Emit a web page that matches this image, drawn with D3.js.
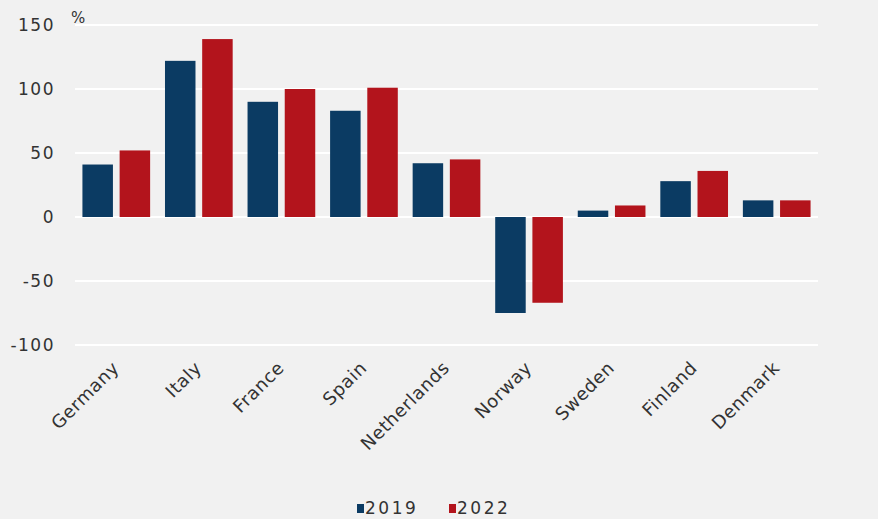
<!DOCTYPE html>
<html>
<head>
<meta charset="utf-8">
<script src="https://cdn.jsdelivr.net/npm/d3@7"></script>
<style>
  body { margin: 0; background: #f1f1f1; }
  text { font-family: "DejaVu Sans", sans-serif; fill: #333; }
</style>
</head>
<body>
<div id="wrapper"></div>
<script>
// data
const countries = ["Germany", "Italy", "France", "Spain", "Netherlands", "Norway", "Sweden", "Finland", "Denmark"]
const years = ["2019", "2022"]
const values2019 = [41, 122, 90, 83, 42, -75, 5, 28, 13]
const values2022 = [52, 139, 100, 101, 45, -67, 9, 36, 13]
const yTicks = [-100, -50, 0, 50, 100, 150]
const colors = ["#0b3b63", "#b3141c"]

function drawChart() {
  const data = countries.map((c, i) => ({country: c, vals: [values2019[i], values2022[i]]}))

  const dimensions = {
    width: 878,
    height: 519,
    margin: {top: 25, right: 60, bottom: 174, left: 75},
  }
  dimensions.boundedWidth = dimensions.width - dimensions.margin.left - dimensions.margin.right
  dimensions.boundedHeight = dimensions.height - dimensions.margin.top - dimensions.margin.bottom

  const svg = d3.select("#wrapper").append("svg")
      .attr("width", dimensions.width)
      .attr("height", dimensions.height)

  svg.append("rect")
      .attr("width", dimensions.width)
      .attr("height", dimensions.height)
      .attr("fill", "#f1f1f1")

  const bounds = svg.append("g")
      .attr("transform", `translate(${dimensions.margin.left},${dimensions.margin.top})`)

  // scales
  const x0 = d3.scaleBand()
      .domain(countries)
      .range([0, 743])
      .paddingInner(0.18)
      .paddingOuter(0.09)
  const x1 = d3.scaleBand()
      .domain(years)
      .range([0, x0.bandwidth()])
      .paddingInner(0.18)
  const y = d3.scaleLinear()
      .domain([-100, 150])
      .range([320, 0])

  // gridlines
  bounds.append("g")
    .selectAll("line")
    .data(yTicks)
    .join("line")
      .attr("x1", 0)
      .attr("x2", 743)
      .attr("y1", d => y(d))
      .attr("y2", d => y(d))
      .attr("stroke", "#ffffff")
      .attr("stroke-width", 2)

  // y labels
  bounds.append("g")
    .selectAll("text")
    .data(yTicks)
    .join("text")
      .attr("x", -20)
      .attr("y", d => y(d))
      .attr("dy", "0.35em")
      .attr("text-anchor", "end")
      .style("font-size", "17px")
      .style("letter-spacing", "1.5px")
      .text(d => d)

  bounds.append("text")
      .attr("x", -4)
      .attr("y", -2)
      .style("font-size", "15px")
      .text("%")

  // bars
  const groups = bounds.append("g")
    .selectAll("g")
    .data(data)
    .join("g")
      .attr("transform", d => `translate(${x0(d.country)},0)`)

  groups.selectAll("rect")
    .data(d => d.vals.map((v, i) => ({year: years[i], v, i})))
    .join("rect")
      .attr("x", d => x1(d.year))
      .attr("width", x1.bandwidth())
      .attr("y", d => y(Math.max(0, d.v)))
      .attr("height", d => Math.abs(y(d.v) - y(0)))
      .attr("fill", d => colors[d.i])

  // x labels
  bounds.append("g")
    .selectAll("text")
    .data(countries)
    .join("text")
      .attr("transform", d => `translate(${x0(d) + x0.bandwidth() / 2 + 4},${344}) rotate(-45)`)
      .attr("text-anchor", "end")
      .style("font-size", "18px")
      .style("letter-spacing", "0.6px")
      .text(d => d)

  // legend
  const legend = svg.append("g")
      .attr("transform", "translate(357,508)")
  const items = legend.selectAll("g")
    .data(years)
    .join("g")
      .attr("transform", (d, i) => `translate(${i * 92},0)`)
  items.append("rect")
      .attr("x", 0)
      .attr("y", -4)
      .attr("width", 7)
      .attr("height", 9)
      .attr("fill", (d, i) => colors[i])
  items.append("text")
      .attr("x", 8)
      .attr("dy", "0.37em")
      .style("font-size", "17px")
      .style("letter-spacing", "2.5px")
      .text(d => d)
}

drawChart()
</script>
</body>
</html>
